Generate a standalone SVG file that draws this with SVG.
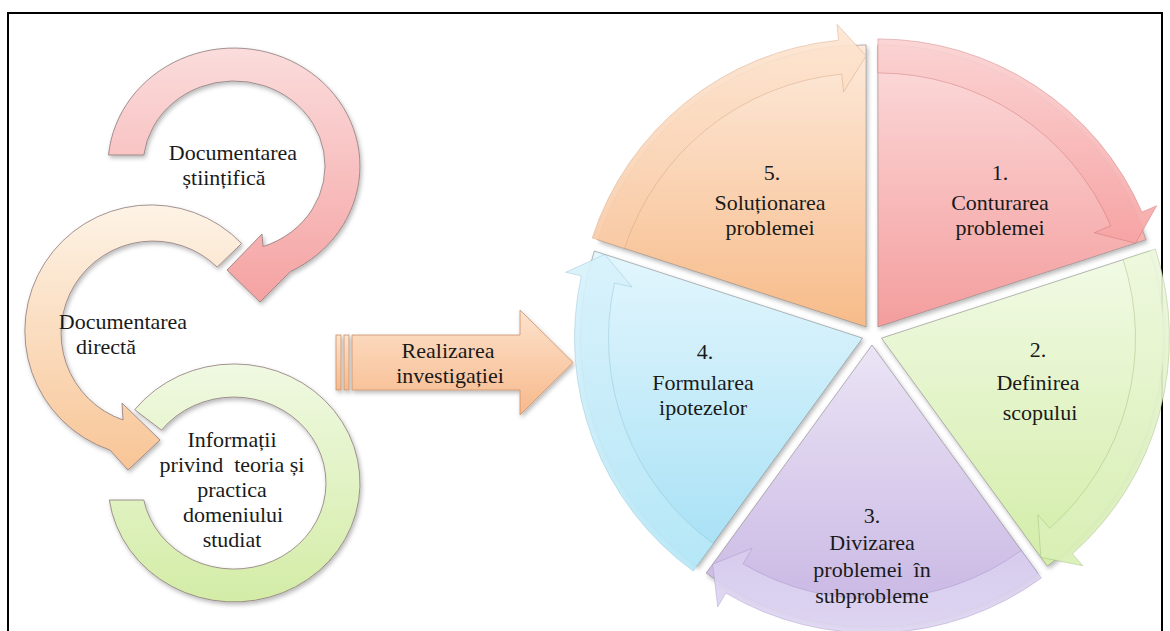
<svg xmlns="http://www.w3.org/2000/svg" width="1170" height="631" viewBox="0 0 1170 631">
<defs>
<filter id="sh" x="-20%" y="-20%" width="140%" height="140%"><feDropShadow dx="1.5" dy="2.5" stdDeviation="2" flood-color="#000" flood-opacity="0.28"/></filter>
<linearGradient id="rR" x1="0" y1="0" x2="0" y2="1"><stop offset="0" stop-color="#fbdcdc"/><stop offset="1" stop-color="#f5a2a2"/></linearGradient>
<linearGradient id="rB" x1="0" y1="0" x2="0" y2="1"><stop offset="0" stop-color="#fdf3e6"/><stop offset="1" stop-color="#f8c596"/></linearGradient>
<linearGradient id="rG" x1="0" y1="0" x2="0" y2="1"><stop offset="0" stop-color="#f0f9e2"/><stop offset="1" stop-color="#d3eca6"/></linearGradient>
<linearGradient id="aO" x1="0" y1="0" x2="0" y2="1"><stop offset="0" stop-color="#fde2cc"/><stop offset="1" stop-color="#f7b98b"/></linearGradient>
<linearGradient id="wR" x1="0" y1="0" x2="0" y2="1"><stop offset="0" stop-color="#fcdcdc"/><stop offset="1" stop-color="#f49d9d"/></linearGradient>
<linearGradient id="wG" x1="0" y1="0" x2="0" y2="1"><stop offset="0" stop-color="#f2fae6"/><stop offset="1" stop-color="#d3eda8"/></linearGradient>
<linearGradient id="wP" x1="0" y1="0" x2="0" y2="1"><stop offset="0" stop-color="#ebe4f5"/><stop offset="1" stop-color="#c7b5e3"/></linearGradient>
<linearGradient id="wB" x1="0" y1="0" x2="0" y2="1"><stop offset="0" stop-color="#e3f6fd"/><stop offset="1" stop-color="#a5e0f5"/></linearGradient>
<linearGradient id="wO" x1="0" y1="0" x2="0" y2="1"><stop offset="0" stop-color="#fdeadb"/><stop offset="1" stop-color="#f7bb89"/></linearGradient>
<linearGradient id="pR" x1="0" y1="0" x2="0" y2="1"><stop offset="0" stop-color="#fbd3d3"/><stop offset="1" stop-color="#f7a4a4"/></linearGradient>
<linearGradient id="pG" x1="0" y1="0" x2="0" y2="1"><stop offset="0" stop-color="#eef8de"/><stop offset="1" stop-color="#d9f0b5"/></linearGradient>
<linearGradient id="pP" x1="0" y1="0" x2="0" y2="1"><stop offset="0" stop-color="#d8cdee"/><stop offset="1" stop-color="#e0d8f3"/></linearGradient>
<linearGradient id="pB" x1="0" y1="0" x2="0" y2="1"><stop offset="0" stop-color="#d9f2fb"/><stop offset="1" stop-color="#b7e8f8"/></linearGradient>
<linearGradient id="pO" x1="0" y1="0" x2="0" y2="1"><stop offset="0" stop-color="#fde6d3"/><stop offset="1" stop-color="#f9cba6"/></linearGradient>
</defs>
<style>
.t{font-size:22px;fill:#1a1a1a;text-anchor:middle}
.ring{stroke:#8e7a7a;stroke-width:0.8;filter:url(#sh)}
.wedge{stroke:#7d7d7d;stroke-opacity:0.55;stroke-width:1;filter:url(#sh)}
.arr{stroke-width:0.9;stroke-opacity:0.45;opacity:0.92}
</style>
<rect width="1170" height="631" fill="#fff"/>
<rect x="8" y="13" width="1154" height="640" fill="none" stroke="#000" stroke-width="2"/>

<g font-family="Liberation Serif, DejaVu Serif, serif">
<g id="ring-green">
<path class="ring" fill="url(#rG)" stroke="#9aa88a" d="M134.7,409.7 A126,119 0 1 1 109.3,500 L143.8,500 A92,86 0 1 0 161.5,430.1 Z"/>
<text class="t" x="232" y="447">Informații</text>
<text class="t" x="232" y="472" xml:space="preserve">privind  teoria și</text>
<text class="t" x="232" y="497">practica</text>
<text class="t" x="233" y="522">domeniului</text>
<text class="t" x="232" y="547">studiat</text>
</g>

<g id="ring-beige">
<path class="ring" fill="url(#rB)" d="M241.6,243.5 A126,126 0 1 0 110,450.1 L128,470 L160,440 L122,403 L123,420 A92,92 0 1 1 217.2,267.1 Z"/>
<text class="t" x="123" y="329">Documentarea</text>
<text class="t" x="106" y="354">directă</text>
</g>

<g id="ring-red">
<path class="ring" fill="url(#rR)" d="M108.5,155 A126,118 0 1 1 290.7,271.4 L260,302 L227,270 L262,234 L263.1,246.5 A91,85 0 1 0 143.8,155 Z"/>
<text class="t" x="233" y="160">Documentarea</text>
<text class="t" x="224" y="185">științifică</text>
</g>

<g id="connectors">
<g id="big-arrow" filter="url(#sh)" fill="url(#aO)" stroke="#c8916a" stroke-width="0.8">
<rect x="336" y="335" width="5" height="55"/>
<rect x="344" y="335" width="5" height="55"/>
<path d="M352,335 L520,335 L520,310 L573,362.5 L520,415 L520,390 L352,390 Z"/>
</g>
<text class="t" x="448" y="358">Realizarea</text>
<text class="t" x="450" y="383">investigației</text>
</g>

<g id="seg1">
<g transform="translate(877.9,326.9)">
<path class="wedge" fill="url(#wR)" d="M0,0 L0,-282 A282,282 0 0 1 268.2,-87.1 Z"/>
<path class="arr" fill="url(#pR)" stroke="#c06060" d="M0,-288 A288,288 0 0 1 264.1,-114.8 L278.8,-121.2 L257.7,-83.7 L216.4,-94.1 L232.9,-101.3 A254,254 0 0 0 0,-254 Z"/>
</g>
<text class="t" x="1000" y="180">1.</text>
<text class="t" x="1000" y="210">Conturarea</text>
<text class="t" x="1000" y="235">problemei</text>
</g>

<g id="seg2">
<g transform="translate(881.5,338.1)">
<path class="wedge" fill="url(#wG)" d="M0,0 L268.2,-87.1 A282,282 0 0 1 165.8,228.1 Z"/>
<path class="arr" fill="url(#pG)" stroke="#8fae6a" d="M273.9,-89 A288,288 0 0 1 190.8,215.7 L201.4,227.7 L159.3,219.2 L156.4,176.8 L168.3,190.2 A254,254 0 0 0 241.6,-78.5 Z"/>
</g>
<text class="t" x="1038" y="357">2.</text>
<text class="t" x="1038" y="390">Definirea</text>
<text class="t" x="1040" y="420">scopului</text>
</g>

<g id="seg3">
<g transform="translate(872,345)">
<path class="wedge" fill="url(#wP)" d="M0,0 L165.8,228.1 A282,282 0 0 1 -165.8,228.1 Z"/>
<path class="arr" fill="url(#pP)" stroke="#9a88c0" d="M169.3,233 A288,288 0 0 1 -146.2,248.1 L-154.3,261.9 L-159.3,219.2 L-119.8,203.3 L-128.9,218.9 A254,254 0 0 0 149.3,205.5 Z"/>
</g>
<text class="t" x="872" y="523">3.</text>
<text class="t" x="872" y="550">Divizarea</text>
<text class="t" x="872" y="577" xml:space="preserve">problemei  în</text>
<text class="t" x="872" y="603">subprobleme</text>
</g>

<g id="seg4">
<g transform="translate(862.5,338.1)">
<path class="wedge" fill="url(#wB)" d="M0,0 L-165.8,228.1 A282,282 0 0 1 -268.2,-87.1 Z"/>
<path class="arr" fill="url(#pB)" stroke="#7fb8cc" d="M-169.3,233 A288,288 0 0 1 -281.2,-62.3 L-296.8,-65.8 L-257.7,-83.7 L-230.4,-51.1 L-248,-55 A254,254 0 0 0 -149.3,205.5 Z"/>
</g>
<text class="t" x="705" y="359">4.</text>
<text class="t" x="703" y="390">Formularea</text>
<text class="t" x="703" y="415">ipotezelor</text>
</g>

<g id="seg5">
<g transform="translate(866.1,326.9)">
<path class="wedge" fill="url(#wO)" d="M0,0 L-268.2,-87.1 A282,282 0 0 1 0,-282 Z"/>
<path class="arr" fill="url(#pO)" stroke="#c99470" d="M-273.9,-89 A288,288 0 0 1 -27.6,-286.7 L-29.1,-302.6 L0,-271 L-22.6,-234.9 L-24.3,-252.8 A254,254 0 0 0 -241.6,-78.5 Z"/>
</g>
<text class="t" x="772" y="180">5.</text>
<text class="t" x="770" y="210">Soluționarea</text>
<text class="t" x="770" y="235">problemei</text>
</g>
</g>
</svg>
